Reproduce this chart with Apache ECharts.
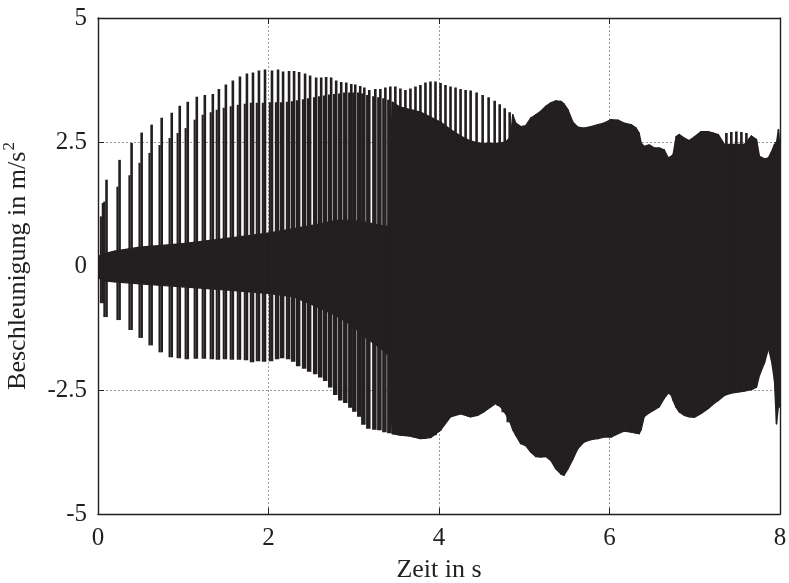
<!DOCTYPE html>
<html>
<head>
<meta charset="utf-8">
<script src="https://cdn.jsdelivr.net/npm/echarts@6/dist/echarts.min.js"></script>
<style>
html,body{margin:0;padding:0;background:#fff;}
#chart{width:789px;height:583px;}
</style>
</head>
<body>
<div id="chart"></div>
<script>
// ---- data ----
const xTicks = [0, 2, 4, 6, 8];
const yTicks = [-5, -2.5, 0, 2.5, 5];

// individual visible oscillation spikes: time, top peak, shoulder peak, bottom peak
const spikeT = [0.059,0.100,0.253,0.394,0.512,0.629,0.747,0.865,0.959,1.053,
  1.159,1.253,1.347,1.418,1.500,1.582,1.665,1.747,1.818,1.888,
  1.959,2.041,2.112,2.171,
  2.241,2.300,2.359,2.429,2.488,2.559,2.618,2.676,2.735,2.794,
  2.853,2.912,2.971,3.018,3.076,3.124,3.182,3.253,3.312,3.371,
  3.429,
  3.488,3.547,3.606,3.665,3.724,3.782,3.841,3.900,3.959,4.018,
  4.076,4.135,4.194,4.253,4.312,4.371,4.441,4.512,4.582,4.653,
  4.712,4.771,4.829,
  7.371,7.429,7.488,7.547,7.606];
const spikeHi = [1.27,1.74,2.14,2.48,2.69,2.85,2.99,3.09,3.23,3.31,
  3.41,3.45,3.47,3.57,3.66,3.74,3.82,3.88,3.90,3.94,
  3.96,3.94,3.96,3.92,
  3.93,3.93,3.91,3.88,3.84,3.80,3.80,3.81,3.80,3.74,
  3.71,3.70,3.67,3.66,3.63,3.60,3.55,3.57,3.57,3.60,
  3.62,
  3.62,3.58,3.55,3.58,3.62,3.65,3.70,3.72,3.72,3.69,
  3.65,3.62,3.60,3.57,3.55,3.54,3.50,3.45,3.40,3.33,
  3.26,3.18,3.10,
  2.68,2.70,2.71,2.70,2.68];
const spikeMid = [1.00,1.30,1.60,1.83,2.08,2.28,2.44,2.58,2.68,2.78,
  2.95,3.05,3.10,3.15,3.19,3.22,3.25,3.27,3.29,3.29,
  3.29,3.30,3.30,3.30,
  3.31,3.32,3.34,3.36,3.38,3.40,3.42,3.44,3.46,3.47,
  3.48,3.50,3.50,3.50,3.50,3.48,3.45,3.42,3.40,3.38,
  3.35,
  3.30,3.20,3.20,3.15,3.15,3.10,3.05,3.00,2.95,2.90,
  2.80,2.75,2.68,2.62,2.56,2.52,2.48,2.47,2.47,2.47,
  2.48,2.48,2.50,
  2.45,2.45,2.45,2.45,2.45];
const spikeLo = [-0.75,-1.03,-1.09,-1.29,-1.45,-1.60,-1.74,-1.84,-1.86,-1.88,
  -1.87,-1.87,-1.88,-1.89,-1.88,-1.89,-1.89,-1.90,-1.94,-1.92,
  -1.93,-1.92,-1.88,-1.86,
  -1.88,-1.93,-2.02,-2.07,-2.13,-2.18,-2.25,-2.32,-2.45,-2.60,
  -2.71,-2.76,-2.86,-2.94,-3.04,-3.20,-3.28,-3.30,-3.31,-3.35,
  -3.37,
  -3.39,-3.41,-3.41,-3.43,-3.46,-3.48,-3.49,-3.46,-3.41,-3.31,
  -3.11,-3.04,-2.99,-2.98,-2.95,-3.04,-3.01,-2.94,-2.86,-2.78,
  -2.82,-2.95,-3.15,
  -2.56,-2.55,-2.54,-2.53,-2.52];

// solid dense part of the signal: time, upper edge, lower edge
const bandT = [0,0.018,0.076,0.194,0.488,0.994,1.488,1.994,2.3,2.606,
  2.794,2.982,3.147,3.312,3.406,3.453,3.547,3.665,3.782,3.9,
  4.018,4.135,4.253,4.371,4.453,4.524,4.606,4.665,4.724,4.782,
  4.841,4.865,4.9,4.959,5.018,5.076,5.135,5.194,5.253,5.312,
  5.371,5.429,5.465,5.512,5.571,5.629,5.7,5.782,5.865,5.935,
  6.018,6.1,6.171,6.253,6.312,6.347,6.371,6.406,6.465,6.524,
  6.582,6.641,6.688,6.724,6.747,6.782,6.818,6.876,6.935,6.994,
  7.076,7.159,7.218,7.276,7.347,7.429,7.506,7.582,7.665,7.724,
  7.759,7.818,7.865,7.9,7.935,7.959,7.982,7.994,8.0];
const bandTop = [0.15,0.2,0.25,0.3,0.38,0.45,0.55,0.66,0.75,0.85,
  0.92,0.92,0.88,0.82,0.8,3.3,3.2,3.15,3.1,3.0,
  2.9,2.75,2.62,2.52,2.48,2.47,2.47,2.47,2.48,2.5,
  2.6,3.05,2.88,2.81,2.83,2.98,3.05,3.12,3.22,3.29,
  3.33,3.32,3.27,3.15,2.9,2.8,2.78,2.81,2.85,2.88,
  2.95,2.94,2.88,2.85,2.78,2.68,2.48,2.41,2.44,2.38,
  2.38,2.34,2.18,2.21,2.25,2.61,2.65,2.58,2.53,2.6,
  2.71,2.71,2.68,2.65,2.45,2.45,2.45,2.45,2.62,2.55,
  2.21,2.16,2.18,2.3,2.45,2.48,2.75,2.48,2.4];
const bandBot = [-0.2,-0.25,-0.3,-0.32,-0.36,-0.42,-0.48,-0.55,-0.62,-0.85,
  -1.0,-1.2,-1.45,-1.65,-1.8,-3.38,-3.41,-3.43,-3.48,-3.46,
  -3.31,-3.04,-2.98,-3.04,-3.01,-2.94,-2.84,-2.77,-2.84,-2.98,
  -3.18,-3.3,-3.41,-3.58,-3.62,-3.75,-3.84,-3.85,-3.84,-3.92,
  -4.09,-4.19,-4.22,-4.09,-3.89,-3.68,-3.55,-3.5,-3.48,-3.45,
  -3.45,-3.38,-3.33,-3.35,-3.37,-3.38,-3.3,-3.04,-2.96,-2.9,
  -2.84,-2.67,-2.56,-2.6,-2.71,-2.85,-2.94,-3.01,-3.04,-3.05,
  -2.97,-2.87,-2.78,-2.71,-2.61,-2.56,-2.54,-2.52,-2.49,-2.44,
  -2.2,-1.95,-1.66,-1.9,-2.3,-3.18,-2.81,-2.84,-2.8];

// ---- chart ----
const ink = '#231f20';
const FONT = 'Liberation Serif';
const FS = 25;
const NFS = 26;

const chart = echarts.init(document.getElementById('chart'), null, {renderer: 'canvas'});

const gridLine = {show: true, lineStyle: {color: '#9a9a9a', width: 1, type: [2, 2]}};
const axLine = {show: true, onZero: false, lineStyle: {color: ink, width: 1.4}};
const tick = {show: true, inside: true, length: 6, lineStyle: {color: ink, width: 1}};

// band segments (each joins two neighbouring band samples)
const bandSegs = [];
for (let i = 0; i < bandT.length - 1; i++) {
  bandSegs.push([bandT[i], bandTop[i], bandBot[i], bandT[i + 1], bandTop[i + 1], bandBot[i + 1]]);
}

const option = {
  animation: false,
  backgroundColor: '#fff',
  grid: {left: 98, right: 9, top: 18, bottom: 69, containLabel: false, outerBoundsMode: 'none'},
  xAxis: [
    {type: 'value', position: 'bottom', min: xTicks[0], max: xTicks[xTicks.length - 1], interval: 2,
      axisLine: axLine, axisTick: tick, splitLine: gridLine,
      axisLabel: {color: ink, fontFamily: FONT, fontSize: FS, margin: 12},
      name: 'Zeit in s', nameLocation: 'middle', nameGap: 43,
      nameTextStyle: {color: ink, fontFamily: FONT, fontSize: NFS}},
    {type: 'value', position: 'top', min: xTicks[0], max: xTicks[xTicks.length - 1], interval: 2,
      axisLine: axLine, axisTick: tick, splitLine: {show: false}, axisLabel: {show: false}}
  ],
  yAxis: [
    {type: 'value', position: 'left', min: yTicks[0], max: yTicks[yTicks.length - 1], interval: 2.5,
      axisLine: axLine, axisTick: tick, splitLine: gridLine,
      axisLabel: {color: ink, fontFamily: FONT, fontSize: FS, margin: 11},
      name: '{a|Beschleunigung in m/s}{s|2}', nameLocation: 'middle', nameGap: 67, nameRotate: 90,
      nameTextStyle: {color: ink, fontFamily: FONT, fontSize: NFS,
        rich: {
          a: {fontFamily: FONT, fontSize: NFS, color: ink, lineHeight: 30, verticalAlign: 'bottom'},
          s: {fontFamily: FONT, fontSize: 17, color: ink, lineHeight: 30, verticalAlign: 'top', padding: [0, 0, 0, 1]}
        }}},
    {type: 'value', position: 'right', min: yTicks[0], max: yTicks[yTicks.length - 1], interval: 2.5,
      axisLine: axLine, axisTick: tick, splitLine: {show: false}, axisLabel: {show: false}}
  ],
  series: [
    {
      type: 'custom', name: 'band', xAxisIndex: 0, yAxisIndex: 0, silent: true, clip: true,
      data: bandSegs,
      encode: {x: [0, 3], y: [1, 2, 4, 5]},
      renderItem: function (params, api) {
        const a1 = api.coord([api.value(0), api.value(1)]);
        const a2 = api.coord([api.value(0), api.value(2)]);
        const b1 = api.coord([api.value(3), api.value(4)]);
        const b2 = api.coord([api.value(3), api.value(5)]);
        return {
          type: 'polygon',
          shape: {points: [a1, b1, b2, a2]},
          style: {fill: ink, stroke: ink, lineWidth: 1.4, lineJoin: 'round'}
        };
      },
      z: 2
    },
    {
      type: 'custom', name: 'spikes', xAxisIndex: 0, yAxisIndex: 0, silent: true, clip: true,
      data: spikeT.map((t, i) => [t, spikeHi[i], spikeMid[i], spikeLo[i]]),
      encode: {x: 0, y: [1, 3]},
      renderItem: function (params, api) {
        const t = api.value(0);
        const ph = api.coord([t, api.value(1)]);
        const pm = api.coord([t, api.value(2)]);
        const pl = api.coord([t, api.value(3)]);
        return {
          type: 'group',
          children: [
            {type: 'rect', shape: {x: ph[0] - 1.3, y: ph[1], width: 2.6, height: pl[1] - ph[1]}, style: {fill: ink}},
            {type: 'rect', shape: {x: ph[0] - 3.2, y: pm[1], width: 2.1, height: pl[1] - pm[1]}, style: {fill: ink}}
          ]
        };
      },
      z: 3
    }
  ]
};
chart.setOption(option);
</script>
</body>
</html>
